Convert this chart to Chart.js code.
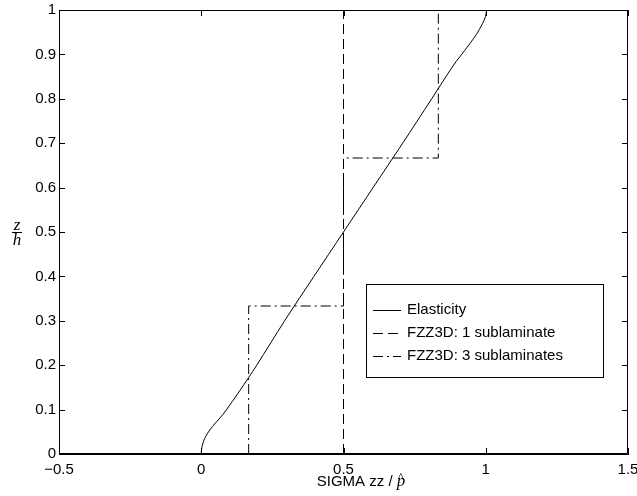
<!DOCTYPE html>
<html><head><meta charset="utf-8">
<script src="https://cdn.jsdelivr.net/npm/chart.js@4/dist/chart.umd.min.js"></script>
<style>html,body{margin:0;padding:0;background:#fff}#wrap{width:637px;height:496px}</style>
</head><body><div id="wrap"><canvas id="c" width="637" height="496"></canvas></div>
<script>
// ---- data ----
const xTicks = [-0.5, 0, 0.5, 1, 1.5];
const yTicks = [0, 0.1, 0.2, 0.3, 0.4, 0.5, 0.6, 0.7, 0.8, 0.9, 1];
const seriesLabels = ['Elasticity', 'FZZ3D: 1 sublaminate', 'FZZ3D: 3 sublaminates'];
const elasticityZ     = [0, 0.01, 0.02, 0.03, 0.04, 0.054, 0.07, 0.088, 0.11, 0.144, 0.2, 0.3, 0.4, 0.5, 0.6, 0.7, 0.8, 0.876, 0.908, 0.944, 0.97, 0.985, 1.0];
const elasticitySigma = [0, 0.001, 0.004, 0.009, 0.016, 0.03, 0.05, 0.075, 0.1, 0.137, 0.195, 0.293, 0.396, 0.5, 0.604, 0.708, 0.81, 0.887, 0.925, 0.966, 0.989, 0.999, 1.003];
const sub1Z     = [0, 1];
const sub1Sigma = [0.5, 0.5];
const sub3Z     = [0, 1/3, 1/3, 2/3, 2/3, 1];
const sub3Sigma = [1/6, 1/6, 0.5, 0.5, 5/6, 5/6];

const pts = (xs, ys) => xs.map((x, i) => ({x: x, y: ys[i]}));
const dashes = [[], [10, 5], [10, 4, 2, 4]];
const SANS = '"Liberation Sans", Arial, Helvetica, sans-serif';
const SERIF = '"Liberation Serif", "Times New Roman", serif';

const extras = {
  id: 'extras',
  afterDraw(chart) {
    const ctx = chart.ctx;
    const {left, right, top, bottom} = chart.chartArea;
    const xs = chart.scales.x, ys = chart.scales.y;
    ctx.save();
    ctx.strokeStyle = '#000';
    ctx.lineWidth = 1;
    ctx.setLineDash([]);
    // box
    ctx.beginPath();
    ctx.rect(left + 0.5, top + 0.5, right - left - 1, bottom - top - 1);
    ctx.stroke();
    // inward ticks
    ctx.beginPath();
    xTicks.forEach(v => {
      const p = Math.round(xs.getPixelForValue(v)) + 0.5;
      ctx.moveTo(p, bottom); ctx.lineTo(p, bottom - 6);
      ctx.moveTo(p, top); ctx.lineTo(p, top + 6);
    });
    yTicks.forEach(v => {
      const p = Math.round(ys.getPixelForValue(v)) + 0.5;
      ctx.moveTo(left, p); ctx.lineTo(left + 6, p);
      ctx.moveTo(right, p); ctx.lineTo(right - 6, p);
    });
    ctx.stroke();

    // y label: z over h
    ctx.fillStyle = '#000';
    ctx.font = 'italic 17px ' + SERIF;
    ctx.textAlign = 'center';
    ctx.textBaseline = 'alphabetic';
    const cx = 17, cy = Math.round(ys.getPixelForValue(0.5)) + 0.5;
    ctx.fillText('z', cx, cy - 3);
    ctx.fillText('h', cx, cy + 12);
    ctx.beginPath();
    ctx.moveTo(cx - 5, cy); ctx.lineTo(cx + 5, cy);
    ctx.stroke();

    // x title
    ctx.textAlign = 'left';
    ctx.font = '15px ' + SANS;
    const t1 = 'SIGMA zz / ';
    const w1 = ctx.measureText(t1).width;
    ctx.font = 'italic 17px ' + SERIF;
    const w2 = ctx.measureText('p').width;
    const tx = 361 - (w1 + w2) / 2;
    const ty = 486;
    ctx.font = '15px ' + SANS;
    ctx.fillText(t1, tx, ty);
    ctx.font = 'italic 17px ' + SERIF;
    ctx.fillText('p', tx + w1, ty);
    ctx.font = '13px ' + SERIF;
    ctx.fillText('^', tx + w1 + 1, ty - 5);

    // legend
    const lx = 366, ly = 284, lw = 237, lh = 93;
    ctx.fillStyle = '#fff';
    ctx.fillRect(lx, ly, lw, lh);
    ctx.strokeRect(lx + 0.5, ly + 0.5, lw, lh);
    ctx.font = '15px ' + SANS;
    ctx.textBaseline = 'middle';
    ctx.fillStyle = '#000';
    const rows = [310, 333, 356];
    chart.data.datasets.forEach((ds, i) => {
      const y = rows[i] + 0.5;
      ctx.setLineDash(ds.borderDash || []);
      ctx.beginPath();
      ctx.moveTo(373, y); ctx.lineTo(401, y);
      ctx.stroke();
      ctx.setLineDash([]);
      ctx.fillText(ds.label, 407, rows[i]);
    });
    ctx.restore();
  }
};

new Chart(document.getElementById('c'), {
  type: 'scatter',
  data: {
    datasets: [
      {label: seriesLabels[0], data: pts(elasticitySigma, elasticityZ), borderDash: dashes[0], tension: 0.3},
      {label: seriesLabels[1], data: pts(sub1Sigma, sub1Z), borderDash: dashes[1], tension: 0},
      {label: seriesLabels[2], data: pts(sub3Sigma, sub3Z), borderDash: dashes[2], tension: 0}
    ].map(d => Object.assign(d, {showLine: true, borderColor: '#000', borderWidth: 1, pointRadius: 0, fill: false}))
  },
  options: {
    responsive: false,
    animation: false,
    devicePixelRatio: 1,
    layout: {padding: {top: 10, right: 9, left: 0, bottom: 0}},
    plugins: {legend: {display: false}, tooltip: {enabled: false}},
    scales: {
      x: {
        type: 'linear', min: -0.5, max: 1.5,
        afterBuildTicks: s => { s.ticks = xTicks.map(v => ({value: v})); },
        afterFit: s => { s.height = 42; s.paddingLeft = 0; s.paddingRight = 0; },
        grid: {display: false, drawTicks: false, tickLength: 0},
        border: {display: true, color: '#000', width: 1},
        ticks: {color: '#000', font: {family: SANS, size: 15}, padding: 7, maxRotation: 0, autoSkip: false,
          callback: v => String(v).replace('-', '\u2212')}
      },
      y: {
        type: 'linear', min: 0, max: 1,
        afterBuildTicks: s => { s.ticks = yTicks.map(v => ({value: v})); },
        afterFit: s => { s.width = 59; s.paddingTop = 0; s.paddingBottom = 0; },
        grid: {display: false, drawTicks: false, tickLength: 0},
        border: {display: true, color: '#000', width: 1},
        ticks: {color: '#000', font: {family: SANS, size: 15}, padding: 3, autoSkip: false,
          callback: v => String(v)}
      }
    }
  },
  plugins: [extras]
});
</script></body></html>
